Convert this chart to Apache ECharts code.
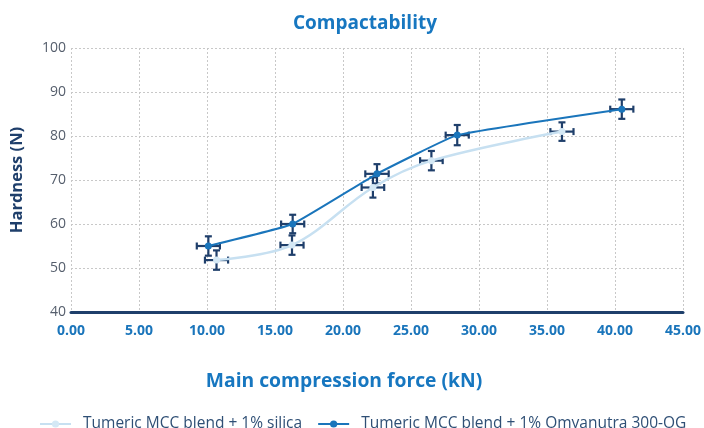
<!DOCTYPE html>
<html><head><meta charset="utf-8">
<script src="https://cdn.jsdelivr.net/npm/echarts@6/dist/echarts.min.js"></script>
<style>html,body{margin:0;padding:0;background:#fff}#c{width:704px;height:428px}</style>
</head><body><div id="c"></div>
<script>
const seriesNames = ['Tumeric MCC blend + 1% silica', 'Tumeric MCC blend + 1% Omyanutra 300-OG'];
const silicaForce = [10.7, 16.25, 22.2, 26.5, 36.1];
const silicaHardness = [51.8, 55.2, 68.3, 74.4, 81.0];
const silicaForceErr = [0.85, 0.85, 0.83, 0.83, 0.85];
const silicaHardnessErr = [2.2, 2.2, 2.3, 2.2, 2.1];
const omyaForce = [10.1, 16.3, 22.5, 28.4, 40.5];
const omyaHardness = [55.0, 60.0, 71.4, 80.2, 86.1];
const omyaForceErr = [0.85, 0.85, 0.86, 0.85, 0.85];
const omyaHardnessErr = [2.2, 2.1, 2.2, 2.3, 2.2];
const xTicks = [0, 5, 10, 15, 20, 25, 30, 35, 40, 45];
const yTicks = [40, 50, 60, 70, 80, 90, 100];

const zip = (xs, ys) => xs.map((x, i) => [x, ys[i]]);
const errData = (xs, ys, xe, ye) => xs.map((x, i) => [x, ys[i], xe[i], ye[i]]);

function renderErr(params, api) {
  const x = api.value(0), y = api.value(1), xe = api.value(2), ye = api.value(3);
  const c = api.coord([x, y]);
  const l = api.coord([x - xe, y]), r = api.coord([x + xe, y]);
  const t = api.coord([x, y + ye]), b = api.coord([x, y - ye]);
  const cap = 3.5;
  const st = { stroke: '#1f3f6b', lineWidth: 2.2 };
  const line = (x1, y1, x2, y2) => ({ type: 'line', shape: { x1, y1, x2, y2 }, style: st });
  return {
    type: 'group',
    children: [
      line(l[0], c[1], r[0], c[1]),
      line(l[0], c[1] - cap, l[0], c[1] + cap),
      line(r[0], c[1] - cap, r[0], c[1] + cap),
      line(c[0], t[1], c[0], b[1]),
      line(c[0] - cap, t[1], c[0] + cap, t[1]),
      line(c[0] - cap, b[1], c[0] + cap, b[1])
    ]
  };
}

const chart = echarts.init(document.getElementById('c'), null, { renderer: 'canvas' });
chart.setOption({
  animation: false,
  textStyle: { fontFamily: 'Open Sans' },
  title: {
    text: 'Compactability', left: 360, top: 9, textAlign: 'center',
    textStyle: { fontFamily: 'Open Sans', fontWeight: 'bold', fontSize: 19, color: '#1777c0' }
  },
  legend: {
    left: 34, top: 411, itemWidth: 31, itemHeight: 9, itemGap: 15,
    textStyle: { fontFamily: 'Open Sans', fontSize: 15.5, color: '#2f4f75', padding: [0, 0, 0, 7] },
    data: seriesNames
  },
  grid: { left: 71, right: 19, top: 48, bottom: 116 },
  xAxis: {
    type: 'value', min: 0, max: 45, interval: 5,
    name: 'Main compression force (kN)', nameLocation: 'middle', nameGap: 60,
    nameTextStyle: { fontFamily: 'Open Sans', fontWeight: 'bold', fontSize: 19.3, color: '#1777c0', padding: [0, 66, 0, 0] },
    axisLine: { show: true, onZero: false, lineStyle: { color: '#1f3f6b', width: 3 } },
    axisTick: { show: false },
    axisLabel: { formatter: v => xTicks.includes(v) ? v.toFixed(2) : '', fontFamily: 'Open Sans', fontWeight: 'bold', fontSize: 14, color: '#1a75bb', margin: 12 },
    splitLine: { show: true, lineStyle: { color: '#c8c8c8', type: [2, 2], width: 1 } }
  },
  yAxis: {
    type: 'value', min: 40, max: 100, interval: 10,
    name: 'Hardness (N)', nameLocation: 'middle', nameGap: 45,
    nameTextStyle: { fontFamily: 'Open Sans', fontWeight: 'bold', fontSize: 16.5, color: '#1f3f6b' },
    axisLine: { show: false }, axisTick: { show: false },
    axisLabel: { formatter: v => yTicks.includes(v) ? String(v) : '', fontFamily: 'Open Sans', fontSize: 14, color: '#555e6c', margin: 5 },
    splitLine: { show: true, lineStyle: { color: '#c8c8c8', type: [2, 2], width: 1 } }
  },
  series: [
    {
      name: seriesNames[0], type: 'line', data: zip(silicaForce, silicaHardness),
      smooth: 0.35, symbol: 'circle', symbolSize: 7, z: 3,
      lineStyle: { color: '#c7e0f1', width: 2.5 },
      itemStyle: { color: '#d4e8f5' }
    },
    {
      name: seriesNames[1], type: 'line', data: zip(omyaForce, omyaHardness),
      smooth: 0.1, symbol: 'circle', symbolSize: 7, z: 3,
      lineStyle: { color: '#1a75bb', width: 2 },
      itemStyle: { color: '#1a75bb' }
    },
    {
      type: 'custom', renderItem: renderErr, z: 2, silent: true,
      encode: { x: 0, y: 1 },
      data: errData(silicaForce, silicaHardness, silicaForceErr, silicaHardnessErr)
    },
    {
      type: 'custom', renderItem: renderErr, z: 2, silent: true,
      encode: { x: 0, y: 1 },
      data: errData(omyaForce, omyaHardness, omyaForceErr, omyaHardnessErr)
    }
  ]
});
</script></body></html>
